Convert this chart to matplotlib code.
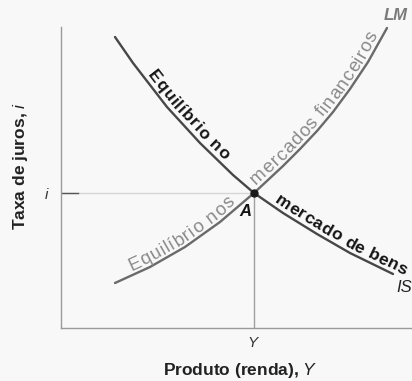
import matplotlib
matplotlib.use("Agg")
import numpy as np
import matplotlib.pyplot as plt
from matplotlib.font_manager import FontProperties, findfont, get_font

plt.rcParams['font.family'] = ['Liberation Sans', 'DejaVu Sans']
plt.rcParams['mathtext.fontset'] = 'custom'
plt.rcParams['mathtext.it'] = 'Liberation Sans:italic'
plt.rcParams['mathtext.rm'] = 'Liberation Sans'
plt.rcParams['mathtext.bf'] = 'Liberation Sans:bold'

# ---- data (arbitrary units) ----
is_x = [54, 72, 106, 139, 172, 193, 222, 256, 289, 332]
is_y = [291, 265, 221, 185, 153, 135, 115, 94, 75, 54]
lm_x = [54, 89, 124, 159, 193, 222, 239, 256, 272, 289, 307, 326]
lm_y = [45, 61, 81, 106, 135, 162, 179, 197, 216, 239, 266, 300]
eq_x, eq_y = 193, 135
x_tick_labels = [r'$\mathit{Y}$']
y_tick_labels = [r'$\mathit{i}$']
curve_names = ['IS', 'LM']
x_label = r'Produto (renda), $\mathit{Y}$'
y_label = r'Taxa de juros, $\mathit{i}$'

W, H, DPI = 412, 381, 100
fig = plt.figure(figsize=(W / DPI, H / DPI), dpi=DPI, facecolor='#f8f8f8')
ax = fig.add_axes([61 / W, 53 / H, 351 / W, 301 / H])
ax.set_facecolor('#f8f8f8')
ax.set_xlim(0, 351)
ax.set_ylim(0, 301)
for s in ['top', 'right']:
    ax.spines[s].set_visible(False)
for s in ['left', 'bottom']:
    ax.spines[s].set_color('#9a9a9a')
    ax.spines[s].set_linewidth(1.0)

ax.set_xticks([eq_x])
ax.set_xticklabels(x_tick_labels, fontsize=11, color='#333333')
ax.set_yticks([eq_y])
ax.set_yticklabels(y_tick_labels, fontsize=11, color='#333333')
ax.tick_params(axis='x', length=0, pad=6)
ax.tick_params(axis='y', length=0, pad=8)

# guide lines
ax.plot([0, eq_x], [eq_y, eq_y], color='#d6d6d6', lw=1.0, zorder=1)
ax.plot([1, 17], [eq_y, eq_y], color='#555555', lw=1.0, zorder=1)
ax.plot([eq_x, eq_x], [0, eq_y], color='#a0a0a0', lw=1.0, zorder=1)

# curves
ax.plot(is_x, is_y, color='#474747', lw=1.7, solid_capstyle='round',
        solid_joinstyle='round', clip_on=False, zorder=3)
ax.plot(lm_x, lm_y, color='#6a6a6a', lw=1.7, solid_capstyle='round',
        solid_joinstyle='round', clip_on=False, zorder=3)
ax.plot([eq_x], [eq_y], 'o', ms=5, color='#1a1a1a', zorder=4)


def glyph_advances(text, prop):
    font = get_font(findfont(prop))
    font.set_size(prop.get_size_in_points(), DPI)
    return [font.load_char(ord(c)).linearHoriAdvance / 65536 for c in text]


def curve_text(xs, ys, text, x_start, length, color, weight, size, offset=4.0):
    pts = ax.transData.transform(np.column_stack([xs, ys]))
    seg = np.diff(pts, axis=0)
    L = np.hypot(seg[:, 0], seg[:, 1])
    cum = np.concatenate([[0.0], np.cumsum(L)])

    def point_at(s):
        if s <= cum[-1]:
            return np.array([np.interp(s, cum, pts[:, 0]), np.interp(s, cum, pts[:, 1])])
        d = seg[-1] / L[-1]
        return pts[-1] + d * (s - cum[-1])

    px = ax.transData.transform((x_start, 0))[0]
    s0 = 0.0
    for i in range(len(pts) - 1):
        if pts[i, 0] <= px <= pts[i + 1, 0]:
            f = (px - pts[i, 0]) / (pts[i + 1, 0] - pts[i, 0])
            s0 = cum[i] + f * L[i]
            break
    prop = FontProperties(family='Liberation Sans', weight=weight, size=size)
    adv = glyph_advances(text, prop)
    spacing = (length - sum(adv)) / max(len(text) - 1, 1)
    pos = s0
    inv = ax.transData.inverted()
    for ch, a in zip(text, adv):
        sc = pos + a / 2
        p = point_at(sc)
        d = point_at(sc + 7) - point_at(sc - 7)
        d = d / np.hypot(*d)
        nrm = np.array([-d[1], d[0]])
        anchor = inv.transform(p + nrm * offset)
        ang = np.degrees(np.arctan2(d[1], d[0]))
        ax.text(anchor[0], anchor[1], ch, rotation=ang, rotation_mode='anchor',
                ha='center', va='baseline', fontproperties=prop, color=color,
                clip_on=False, zorder=5)
        pos += a + spacing


curve_text(is_x, is_y, 'Equilíbrio no', 83, 116, '#141414', 'bold', 12.5)
curve_text(lm_x, lm_y, 'mercados financeiros', 198, 196, '#8a8a8a', 'normal', 13.5)
curve_text(lm_x, lm_y, 'Equilíbrio nos', 72, 126, '#8a8a8a', 'normal', 13.5)
curve_text(is_x, is_y, 'mercado de bens', 211, 150, '#141414', 'bold', 12.5)

ax.text(184, 117, 'A', ha='center', va='center', fontsize=12,
        fontweight='bold', fontstyle='italic', color='#111111')
ax.text(335, 312, curve_names[1], ha='center', va='center', fontsize=12,
        fontweight='bold', fontstyle='italic', color='#7a7a7a', clip_on=False)
ax.text(343, 41, curve_names[0], ha='center', va='center', fontsize=12,
        fontstyle='italic', color='#222222', clip_on=False)

fig.text(240 / W, 1 - 370 / H, x_label, ha='center', va='center',
         fontsize=12.5, fontweight='bold', color='#222222')
fig.text(21 / W, 1 - 166 / H, y_label, ha='center', va='center',
         rotation=90, fontsize=12.5, fontweight='bold', color='#222222')

fig.savefig('out.png', dpi=DPI, facecolor=fig.get_facecolor())
